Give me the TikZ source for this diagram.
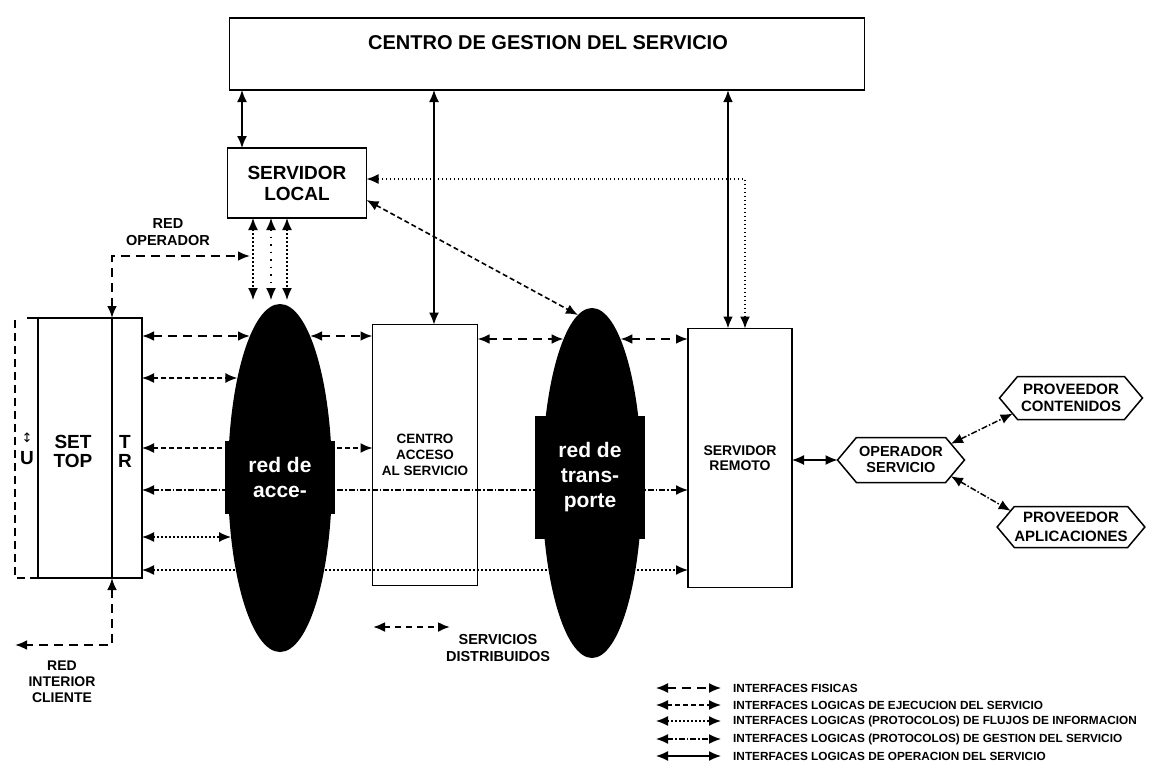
\documentclass[tikz,border=0pt]{standalone}
\usepackage{fontspec}
\setmainfont{Liberation Sans}
\newfontfamily\symfont{DejaVu Sans}
\usetikzlibrary{arrows.meta, positioning, calc, shapes.geometric, shapes.symbols}
\pgfdeclarelayer{bg}
\pgfsetlayers{bg,main}
\newcommand{\fsz}[2]{\fontsize{#1}{#2}\selectfont}
\tikzset{
  box/.style={draw, line width=1.6pt, inner sep=0pt, outer sep=0pt, align=center},
  hexa/.style={signal, signal to=east and west, signal pointer angle=100, draw, line width=1.5pt,
    inner sep=0pt, outer sep=0pt, align=center, font=\bfseries\fsz{14.5}{16}},
  net/.style={ellipse, fill=black, inner sep=0pt, outer sep=0pt},
  netlabel/.style={fill=black, text=white, inner sep=0pt, align=center, font=\bfseries\fsz{21}{25}},
  lbl/.style={align=center, inner sep=0pt, font=\bfseries\fsz{14.5}{17}},
  leg/.style={inner sep=0pt, anchor=west, font=\bfseries\fsz{11.8}{12}},
  fisica/.style={<->, line width=2.6pt, dash pattern=on 9pt off 6pt},
  ejec/.style={<->, line width=1.6pt, dash pattern=on 5pt off 3pt},
  flujo/.style={<->, line width=1.5pt, dash pattern=on 1.5pt off 2.5pt},
  gestion/.style={<->, line width=1.5pt, dash pattern=on 6pt off 2pt on 1.5pt off 2pt},
  oper/.style={<->, line width=1.6pt}
}

\begin{document}
\begin{tikzpicture}[x=1pt, y=-1pt, >={Latex[length=12pt,width=10pt]}]
  \useasboundingbox (0,0) rectangle (1149,763);

  % management centre and servers
  \node[box, minimum width=635, minimum height=72] (csg) at (547,54) {};
  \node[lbl, font=\bfseries\fsz{20}{22}] (csgt) at (548,43) {CENTRO DE GESTION DEL SERVICIO};
  \node[box, minimum width=139, minimum height=70, font=\bfseries\fsz{19}{21}] (sloc) at (297,183) {SERVIDOR\\LOCAL};
  \node[box, minimum width=104, minimum height=260] (stb) at (90,448) {};
  \node[box, minimum width=105, minimum height=261, font=\bfseries\fsz{13.5}{16}] (cas) at (425,455) {CENTRO\\ACCESO\\AL SERVICIO};
  \node[box, minimum width=104, minimum height=259, font=\bfseries\fsz{14}{15}] (srem) at (740,458) {SERVIDOR\\REMOTO};
  \node[hexa, minimum width=127, minimum height=45] (opser) at (901,460) {OPERADOR\\SERVICIO};
  \node[hexa, minimum width=143, minimum height=43, font=\bfseries\fsz{15}{17}] (pcon) at (1071,398) {PROVEEDOR\\CONTENIDOS};
  \node[hexa, minimum width=143, minimum height=41, font=\bfseries\fsz{15}{19}] (papl) at (1071,527) {PROVEEDOR\\APLICACIONES};

  % set top
  \draw[line width=1.6pt] (stb.north -| 112,0) -- (stb.south -| 112,0);
  \draw[line width=1.6pt] (stb.north west) -- (27,318);
  \draw[line width=2.2pt, dash pattern=on 8pt off 5pt] (15,320) -- (15,578) -- (stb.south west);
  \node[lbl, font=\bfseries\fsz{19}{19}] (settxt) at (73,451) {SET\\TOP};
  \node[lbl, font=\bfseries\fsz{19}{19}] (trtxt) at (125,451) {T\\R};
  \node[lbl, font=\bfseries\fsz{19}{19}] (utxt) at (27,458) {U};
  \node[lbl, font=\symfont\fsz{13}{13}] (uarr) at (27,438) {↕};

  % networks
  \node[net, minimum width=104, minimum height=348] (acc) at (280,478) {};
  \node[net, minimum width=100, minimum height=350] (tr) at (592,483) {};

  % lines running behind the networks
  \begin{pgfonlayer}{bg}
    \draw[ejec] (stb.east |- 0,448) -- (cas.west |- 0,448);
    \draw[gestion] (stb.east |- 0,490) -- (srem.west |- 0,490);
    \draw[flujo] (stb.east |- 0,570) -- (srem.west |- 0,570);
  \end{pgfonlayer}

  \node[netlabel, minimum width=110, minimum height=73] (accl) at (280,477) {red de\\acce-};
  \node[netlabel, minimum width=110, minimum height=123] (trl) at (590,477) {red de\\trans-\\porte};

  % from the management centre
  \draw[oper] (csg.south -| 242,0) -- (sloc.north -| 242,0);
  \draw[oper, line width=1.3pt] (csg.south -| 434,0) -- (cas.north -| 434,0);
  \draw[oper, line width=2.4pt] (csg.south -| 728,0) -- (srem.north -| 728,0);

  % local server
  \draw[flujo] (sloc.south -| 253,0) -- ([yshift=4pt]acc.north -| 253,0);
  \draw[gestion, dash pattern=on 1.5pt off 6pt] (sloc.south -| 271,0) -- ([yshift=4pt]acc.north -| 271,0);
  \draw[flujo] (sloc.south -| 287,0) -- ([yshift=4pt]acc.north -| 287,0);
  \draw[ejec] ([yshift=-17pt]sloc.east) -- ($(tr.center)+(-14,-168)$);
  \draw[flujo] ([yshift=4pt]sloc.east) -| (srem.north -| 745,0);

  % operator and client networks
  \coordinate (ropend) at (250,256);
  \coordinate (ricend) at (15,645);
  \draw[fisica] (stb.north -| 112,0) |- (ropend);
  \draw[fisica] (stb.south -| 112,0) |- (ricend);
  \node[lbl] (redop) at (168,232) {RED\\OPERADOR};
  \node[lbl, font=\bfseries\fsz{14}{16}] (redcli) at (62,682) {RED\\INTERIOR\\CLIENTE};

  % access side
  \draw[fisica] (stb.east |- 0,336) -- ($(acc.center)+(-30,-142)$);
  \draw[fisica] ($(acc.center)+(30,-142)$) -- (cas.west |- 0,336);
  \draw[ejec] (stb.east |- 0,378) -- ($(acc.center)+(-42.6,-100)$);
  \draw[flujo] (stb.east |- 0,537) -- ($(acc.center)+(-48.9,59)$);

  % transport side
  \draw[fisica] (cas.east |- 0,339) -- ($(tr.center)+(-28.4,-144)$);
  \draw[fisica] ($(tr.center)+(28.4,-144)$) -- (srem.west |- 0,339);

  % remote server to providers
  \draw[oper, line width=1.3pt] (srem.east |- opser.west) -- (opser.west);
  \draw[gestion] (opser.18) -- (pcon.195);
  \draw[gestion] (opser.-18) -- (papl.165);

  % distributed services
  \coordinate (sd1) at (373,627);
  \coordinate (sd2) at (450,627);
  \draw[fisica, line width=2.2pt, dash pattern=on 6pt off 5pt] (sd1) -- (sd2);
  \node[lbl] (sdl) at (498,648) {SERVICIOS\\DISTRIBUIDOS};

  % legend
  \foreach \yy/\sty/\txt in {688/fisica/INTERFACES FISICAS,
      705/ejec/INTERFACES LOGICAS DE EJECUCION DEL SERVICIO,
      721/flujo/INTERFACES LOGICAS (PROTOCOLOS) DE FLUJOS DE INFORMACION,
      739/gestion/INTERFACES LOGICAS (PROTOCOLOS) DE GESTION DEL SERVICIO,
      756/oper/INTERFACES LOGICAS DE OPERACION DEL SERVICIO} {
    \draw[\sty, line width=1.5pt] (656,\yy) -- (721,\yy);
    \node[leg] (leg\yy) at (733,\yy) {\txt};
  }
\end{tikzpicture}
\end{document}
